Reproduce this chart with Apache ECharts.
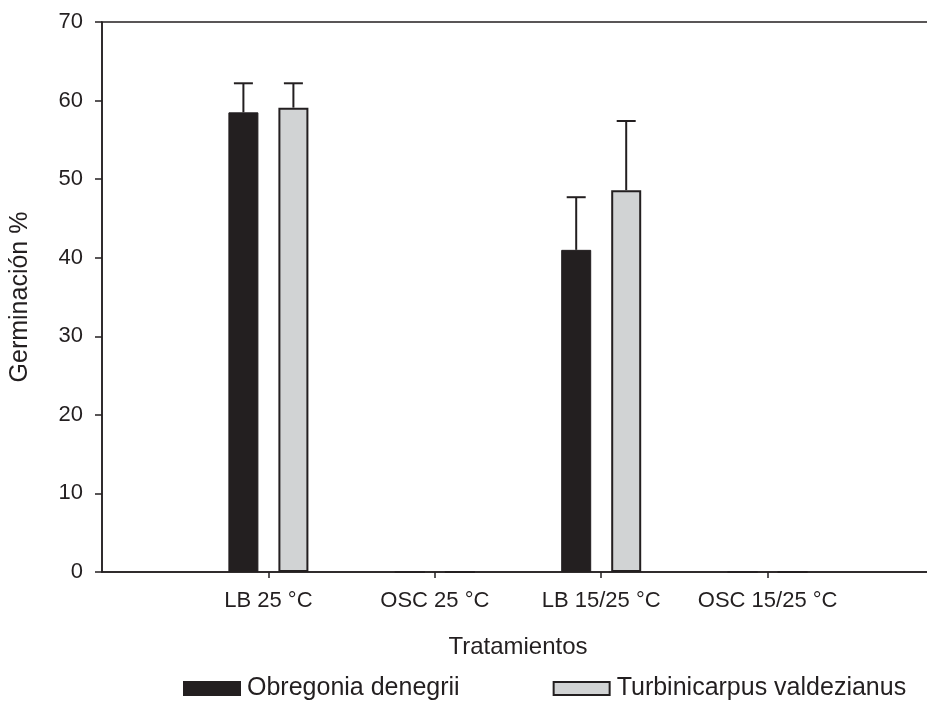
<!DOCTYPE html>
<html>
<head>
<meta charset="utf-8">
<script src="https://cdn.jsdelivr.net/npm/echarts@6/dist/echarts.min.js"></script>
<style>
  html, body { margin: 0; padding: 0; background: #fff; overflow: hidden; }
  /* the frame runs on past the right edge of the window */
  #chart { width: 950px; height: 701px; }
</style>
</head>
<body>
<div id="chart"></div>
<script>
// Germination (%) per treatment for two cactus species, mean with upper error bar
const categories = ['LB 25 °C', 'OSC 25 °C', 'LB 15/25 °C', 'OSC 15/25 °C'];
const categoryPositions = [1, 2, 3, 4];
const obregonia = [58.5, 0, 41.0, 0];
const obregoniaErr = [3.7, 0, 6.7, 0];
const turbinicarpus = [59.1, 0, 48.6, 0];
const turbinicarpusErr = [3.1, 0, 8.8, 0];
const yTicks = [0, 10, 20, 30, 40, 50, 60, 70];

const INK = '#231f20';
const LIGHT = '#d1d3d4';
const FONT = '"Liberation Sans", Arial, Helvetica, sans-serif';
const BAR_W = 30;
const PAIR_OFFSET = 25; // half distance between paired bar centres

function barData(values) {
  return values.map((v, i) => [categoryPositions[i], v]);
}
function errData(values, errs) {
  return values
    .map((v, i) => [categoryPositions[i], v, v + errs[i]])
    .filter((d, i) => errs[i] > 0);
}
function errorBar(offset) {
  return function (params, api) {
    const base = api.coord([api.value(0), api.value(1)]);
    const top = api.coord([api.value(0), api.value(2)]);
    const x = base[0] + offset;
    const half = 9.5;
    const style = { stroke: INK, lineWidth: 2 };
    return {
      type: 'group',
      children: [
        { type: 'line', shape: { x1: x, y1: base[1], x2: x, y2: top[1] }, style },
        { type: 'line', shape: { x1: x - half, y1: top[1], x2: x + half, y2: top[1] }, style }
      ]
    };
  };
}

const chart = echarts.init(document.getElementById('chart'), null, { renderer: 'canvas' });
chart.setOption({
  animation: false,
  backgroundColor: '#fff',
  textStyle: { fontFamily: FONT, color: INK },
  grid: {
    left: 101, top: 22, width: 833, height: 550,
    show: true, borderColor: INK, borderWidth: 1.5, backgroundColor: 'transparent'
  },
  legend: {
    left: 183, top: 676, padding: 0,
    itemWidth: 56, itemHeight: 13, itemGap: 93,
    icon: 'rect',
    textStyle: { fontSize: 25, color: INK, fontFamily: FONT, padding: [0, 0, 0, 2] },
    data: ['Obregonia denegrii', 'Turbinicarpus valdezianus']
  },
  xAxis: {
    type: 'value',
    min: 0, max: 5, interval: 1,
    name: 'Tratamientos',
    nameLocation: 'middle',
    nameGap: 63,
    nameTextStyle: { fontSize: 24, color: INK, fontFamily: FONT },
    axisLine: { show: true, lineStyle: { color: INK, width: 1.5 } },
    axisTick: { show: true, inside: false, length: 6, lineStyle: { color: INK, width: 1.5 }, customValues: categoryPositions },
    axisLabel: {
      fontSize: 22, color: INK, fontFamily: FONT, margin: 18,
      customValues: categoryPositions,
      formatter: v => categories[categoryPositions.indexOf(v)] || ''
    },
    splitLine: { show: false }
  },
  yAxis: {
    type: 'value',
    min: 0, max: 70, interval: 10,
    name: 'Germinación %',
    nameLocation: 'middle',
    nameGap: 69,
    nameTextStyle: { fontSize: 25, color: INK, fontFamily: FONT },
    axisLine: { show: true, lineStyle: { color: INK, width: 1.5 } },
    axisTick: { show: true, inside: false, length: 7, lineStyle: { color: INK, width: 1.5 } },
    axisLabel: { fontSize: 22, color: INK, fontFamily: FONT, margin: 19, formatter: v => yTicks.includes(v) ? String(v) : '' },
    splitLine: { show: false }
  },
  series: [
    {
      name: 'Obregonia denegrii',
      type: 'bar',
      barWidth: BAR_W,
      barGap: '66.67%',
      itemStyle: { color: INK, borderColor: INK, borderWidth: 1 },
      data: barData(obregonia)
    },
    {
      name: 'Turbinicarpus valdezianus',
      type: 'bar',
      barWidth: BAR_W,
      barGap: '66.67%',
      itemStyle: { color: LIGHT, borderColor: INK, borderWidth: 2 },
      data: barData(turbinicarpus)
    },
    {
      type: 'custom',
      renderItem: errorBar(-PAIR_OFFSET),
      encode: { x: 0, y: [1, 2] },
      z: 3,
      silent: true,
      data: errData(obregonia, obregoniaErr)
    },
    {
      type: 'custom',
      renderItem: errorBar(PAIR_OFFSET),
      encode: { x: 0, y: [1, 2] },
      z: 3,
      silent: true,
      data: errData(turbinicarpus, turbinicarpusErr)
    }
  ]
});
</script>
</body>
</html>
